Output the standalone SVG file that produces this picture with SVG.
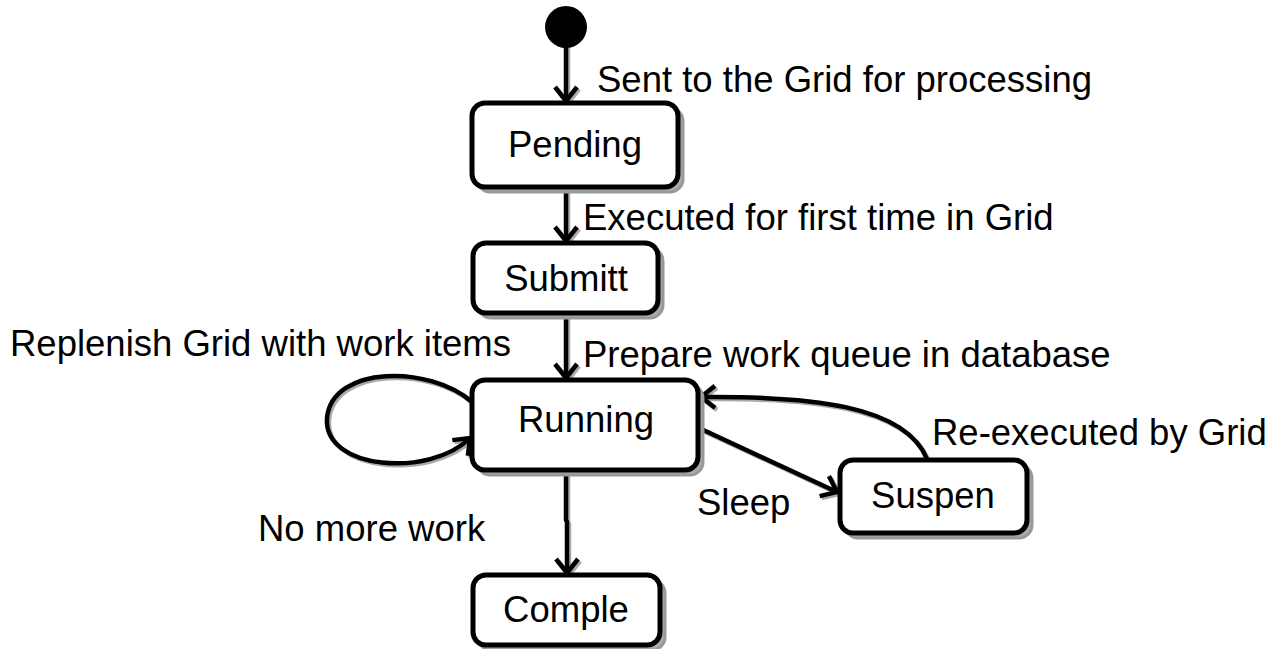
<svg xmlns="http://www.w3.org/2000/svg" width="1278" height="649" viewBox="0 0 1278 649">
<style>
.box{fill:#fff;stroke:#000;stroke-width:5}
.sh{fill:#aaa;stroke:#999;stroke-width:3}
.lbl{font-family:"Liberation Sans",Arial,sans-serif;font-size:36.5px;fill:#000}
.ctr{text-anchor:middle}
.ln{fill:none;stroke:#000;stroke-width:4.5}
.lsh{fill:none;stroke:#aaa;stroke-width:4.5}
</style>
<defs>
<marker id="ah" viewBox="0 0 18 26" refX="16" refY="13" markerWidth="18" markerHeight="26" markerUnits="userSpaceOnUse" orient="auto">
<path d="M2,2 L16,13 L2,24" fill="none" stroke="#000" stroke-width="4.5" stroke-linejoin="miter"/>
</marker>
<marker id="ahs" viewBox="0 0 18 26" refX="16" refY="13" markerWidth="18" markerHeight="26" markerUnits="userSpaceOnUse" orient="auto">
<path d="M2,2 L16,13 L2,24" fill="none" stroke="#aaa" stroke-width="4.5"/>
</marker>
</defs>
<g id="connectors">
<g transform="translate(2,2)">
<path class="lsh" marker-end="url(#ahs)" d="M566,46 L566,101"/>
<path class="lsh" marker-end="url(#ahs)" d="M566,188 L566,241"/>
<path class="lsh" marker-end="url(#ahs)" d="M566,314 L566,378"/>
<path class="lsh" marker-end="url(#ahs)" d="M472,402 C430,365 332,365 327,418 C323,470 430,478 470,438"/>
<path class="lsh" marker-end="url(#ahs)" d="M699,428 L837,492"/>
<path class="lsh" marker-end="url(#ahs)" d="M927,459 C905,405 810,396 701,397"/>
<path class="lsh" marker-end="url(#ahs)" d="M566,471 L566,520 L567,522 L567,573"/>
</g>
<path class="ln" marker-end="url(#ah)" d="M566,46 L566,101"/>
<path class="ln" marker-end="url(#ah)" d="M566,188 L566,241"/>
<path class="ln" marker-end="url(#ah)" d="M566,314 L566,378"/>
<path class="ln" marker-end="url(#ah)" d="M472,402 C430,365 332,365 327,418 C323,470 430,478 470,438"/>
<path class="ln" marker-end="url(#ah)" d="M699,428 L837,492"/>
<path class="ln" marker-end="url(#ah)" d="M927,459 C905,405 810,396 701,397"/>
<path class="ln" marker-end="url(#ah)" d="M566,471 L566,520 L567,522 L567,573"/>
<text class="lbl" x="597" y="92">Sent to the Grid for processing</text>
<text class="lbl" x="583" y="230">Executed for first time in Grid</text>
<text class="lbl" x="10" y="356">Replenish Grid with work items</text>
<text class="lbl" x="583" y="367">Prepare work queue in database</text>
<text class="lbl" x="932" y="445">Re-executed by Grid</text>
<text class="lbl" x="697" y="515">Sleep</text>
<text class="lbl" x="258" y="541">No more work</text>
</g>
<g id="start">
<circle cx="566" cy="27" r="21" fill="#000"/>
</g>
<g id="pending">
<rect class="sh" x="477" y="108" width="206" height="84" rx="13"/>
<rect class="box" x="472" y="103" width="206" height="84" rx="13"/>
<text class="lbl ctr" x="575" y="157">Pending</text>
</g>
<g id="submitt">
<rect class="sh" x="478" y="248" width="185" height="70" rx="13"/>
<rect class="box" x="473" y="243" width="185" height="70" rx="13"/>
<text class="lbl ctr" x="566" y="291">Submitt</text>
</g>
<g id="running">
<rect class="sh" x="477" y="385" width="226" height="90" rx="13"/>
<rect class="box" x="472" y="380" width="226" height="90" rx="13"/>
<text class="lbl ctr" x="586" y="432">Running</text>
</g>
<g id="suspen">
<rect class="sh" x="845" y="465" width="187" height="73" rx="13"/>
<rect class="box" x="840" y="460" width="187" height="73" rx="13"/>
<text class="lbl ctr" x="933" y="508">Suspen</text>
</g>
<g id="comple">
<rect class="sh" x="478" y="580" width="187" height="70" rx="13"/>
<rect class="box" x="473" y="575" width="187" height="70" rx="13"/>
<text class="lbl ctr" x="566" y="622">Comple</text>
</g>
</svg>
